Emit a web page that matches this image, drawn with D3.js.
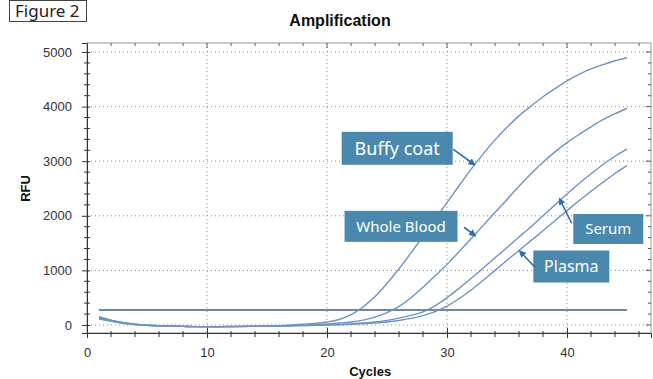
<!DOCTYPE html>
<html>
<head>
<meta charset="utf-8">
<script src="https://cdn.jsdelivr.net/npm/d3@7"></script>
<style>
  body { margin: 0; background: #fff; }
  svg { display: block; }
</style>
</head>
<body>
<div id="chart"></div>
<script>
var width = 653;
var height = 379;
var margin = {top: 43, right: 2, bottom: 46, left: 87};

// cycles 1..45
var cycles = d3.range(1, 46);
var buffyCoat = [150, 90, 45, 15, -5, -15, -20, -25, -30, -30, -30, -28, -25, -22, -18, -12, 0, 15, 30, 55,
                 100, 190, 330, 520, 760, 1030, 1320, 1620, 1930, 2240, 2550, 2850, 3130, 3390, 3620, 3830, 4010, 4180, 4330, 4470,
                 4590, 4690, 4770, 4840, 4895];
var wholeBlood = [140, 85, 40, 12, -5, -15, -20, -25, -30, -30, -30, -28, -25, -22, -20, -15, -10, -5, 5, 20,
                  35, 55, 90, 145, 225, 340, 500, 690, 895, 1110, 1340, 1580, 1820, 2060, 2300, 2540, 2770, 2980, 3170, 3340,
                  3490, 3630, 3760, 3870, 3970];
var serum = [120, 75, 35, 10, -5, -15, -20, -25, -30, -32, -32, -30, -28, -25, -22, -18, -14, -10, -5, 5,
             10, 20, 35, 55, 85, 125, 175, 240, 350, 500, 670, 850, 1040, 1230, 1420, 1610, 1800, 2000, 2200, 2400,
             2590, 2770, 2940, 3090, 3220];
var plasma = [110, 70, 32, 8, -5, -15, -20, -25, -30, -32, -32, -30, -28, -25, -22, -18, -14, -10, -5, 0,
              5, 12, 22, 35, 55, 82, 120, 170, 245, 345, 480, 640, 815, 1000, 1185, 1365, 1545, 1725, 1910, 2095,
              2275, 2450, 2615, 2775, 2920];
var seriesNames = ["Buffy coat", "Whole Blood", "Serum", "Plasma"];
var seriesValues = [buffyCoat, wholeBlood, serum, plasma];
var threshold = 275;

var xTicks = [0, 10, 20, 30, 40];
var yTicks = [0, 1000, 2000, 3000, 4000, 5000];

// label boxes + arrows, in data units (cycle, RFU)
var notes = [
  {text: "Buffy coat",  cx: 25.85, cy: 3236, w: 111, h: 33, size: 18, from: [30.53, 3218], to: [32.33, 2930]},
  {text: "Whole Blood", cx: 26.17, cy: 1807, w: 113, h: 31, size: 15, from: [31.42, 1790], to: [32.39, 1630]},
  {text: "Serum",       cx: 43.44, cy: 1758, w: 70,  h: 30, size: 15, from: [40.39, 1863], to: [39.36, 2320]},
  {text: "Plasma",      cx: 40.36, cy: 1071, w: 76,  h: 32, size: 16, from: [37.33, 1057], to: [36.03, 1361]}
];

var svg = d3.select("#chart")
    .append("svg")
    .attr("width", width)
    .attr("height", height);

var defs = svg.append("defs");
defs.append("marker")
    .attr("id", "arrow")
    .attr("viewBox", "0 0 10 10")
    .attr("refX", 9)
    .attr("refY", 5)
    .attr("markerWidth", 4.5)
    .attr("markerHeight", 4.5)
    .attr("orient", "auto")
  .append("path")
    .attr("d", "M0,0L10,5L0,10z")
    .attr("fill", "#2d6db3");

var w = width - margin.left - margin.right;
var h = height - margin.top - margin.bottom;

var g = svg.append("g").attr("transform", "translate(" + margin.left + "," + margin.top + ")");

var x = d3.scaleLinear().domain([0, 47]).range([0, w]);
var y = d3.scaleLinear().domain([-147, 5165]).range([h, 0]);

// dotted grid
g.append("g").selectAll("line")
    .data(xTicks.slice(1))
    .enter().append("line")
      .attr("x1", function(d) { return x(d); })
      .attr("x2", function(d) { return x(d); })
      .attr("y1", 0).attr("y2", h)
      .attr("stroke", "#8a8a8a")
      .attr("stroke-dasharray", "1,3");

g.append("g").selectAll("line")
    .data(yTicks)
    .enter().append("line")
      .attr("x1", 0).attr("x2", w)
      .attr("y1", function(d) { return y(d); })
      .attr("y2", function(d) { return y(d); })
      .attr("stroke", "#8a8a8a")
      .attr("stroke-dasharray", "1,3");

// frame
g.append("rect")
    .attr("width", w).attr("height", h)
    .attr("fill", "none")
    .attr("stroke", "#9a9a9a");

// minor ticks top/right
var minorX = d3.range(2, 47, 2);
var minorY = d3.range(0, 5001, 200);
g.append("g").selectAll("line")
    .data(minorX)
    .enter().append("line")
      .attr("x1", function(d) { return x(d); })
      .attr("x2", function(d) { return x(d); })
      .attr("y1", 0).attr("y2", function(d) { return d % 10 == 0 ? 5 : 3; })
      .attr("stroke", "#555");
g.append("g").selectAll("line")
    .data(minorY)
    .enter().append("line")
      .attr("x1", w).attr("x2", function(d) { return d % 1000 == 0 ? w - 5 : w - 3; })
      .attr("y1", function(d) { return y(d); })
      .attr("y2", function(d) { return y(d); })
      .attr("stroke", "#555");

// axes
var xAxis = g.append("g")
    .attr("transform", "translate(0," + h + ")")
    .call(d3.axisBottom(x).tickValues(xTicks).tickSize(5).tickPadding(10).tickFormat(d3.format("d")));
xAxis.selectAll(".tick line").attr("y1", -5);
xAxis.append("g").selectAll("line")
    .data(minorX.filter(function(d) { return d % 10 != 0; }))
    .enter().append("line")
      .attr("x1", function(d) { return x(d); })
      .attr("x2", function(d) { return x(d); })
      .attr("y1", -2).attr("y2", 4)
      .attr("stroke", "#333");

var yAxis = g.append("g")
    .call(d3.axisLeft(y).tickValues(yTicks).tickSize(5).tickPadding(10).tickFormat(d3.format("d")));
yAxis.selectAll(".tick line").attr("x1", 3);
yAxis.append("g").selectAll("line")
    .data(minorY.filter(function(d) { return d % 1000 != 0; }))
    .enter().append("line")
      .attr("x1", -3).attr("x2", 3)
      .attr("y1", function(d) { return y(d); })
      .attr("y2", function(d) { return y(d); })
      .attr("stroke", "#333");

svg.selectAll(".domain").attr("stroke", "#333");
svg.selectAll(".tick line").attr("stroke", "#333");
svg.selectAll(".tick text")
    .attr("fill", "#333")
    .style("font", "13px 'Liberation Sans', Arial, sans-serif");

// threshold
g.append("line")
    .attr("x1", x(1)).attr("x2", x(45))
    .attr("y1", y(threshold)).attr("y2", y(threshold))
    .attr("stroke", "#3d5c93")
    .attr("stroke-width", 1.6);

// curves
var line = d3.line()
    .x(function(d, i) { return x(cycles[i]); })
    .y(function(d) { return y(d); })
    .curve(d3.curveMonotoneX);

g.append("g").selectAll("path")
    .data(seriesValues)
    .enter().append("path")
      .attr("d", line)
      .attr("fill", "none")
      .attr("stroke", "#6f93c0")
      .attr("stroke-width", 1.4);

// labels
var note = g.append("g").selectAll("g")
    .data(notes)
    .enter().append("g");

note.append("rect")
    .attr("x", function(d) { return x(d.cx) - d.w / 2; })
    .attr("y", function(d) { return y(d.cy) - d.h / 2; })
    .attr("width", function(d) { return d.w; })
    .attr("height", function(d) { return d.h; })
    .attr("fill", "#4a89ad");

note.append("text")
    .attr("x", function(d) { return x(d.cx); })
    .attr("y", function(d) { return y(d.cy); })
    .attr("dy", "0.35em")
    .attr("text-anchor", "middle")
    .attr("fill", "#fff")
    .style("font-family", "'Noto Sans', 'Open Sans', sans-serif")
    .style("font-size", function(d) { return d.size + "px"; })
    .text(function(d) { return d.text; });

note.append("line")
    .attr("x1", function(d) { return x(d.from[0]); })
    .attr("y1", function(d) { return y(d.from[1]); })
    .attr("x2", function(d) { return x(d.to[0]); })
    .attr("y2", function(d) { return y(d.to[1]); })
    .attr("stroke", "#2d6db3")
    .attr("stroke-width", 1.6)
    .attr("marker-end", "url(#arrow)");

// titles
svg.append("text")
    .attr("x", 340).attr("y", 26)
    .attr("text-anchor", "middle")
    .style("font", "bold 16px 'Liberation Sans', Arial, sans-serif")
    .attr("fill", "#111")
    .text("Amplification");

svg.append("text")
    .attr("x", margin.left + x(23.6)).attr("y", 376)
    .attr("text-anchor", "middle")
    .style("font", "bold 13px 'Liberation Sans', Arial, sans-serif")
    .attr("fill", "#111")
    .text("Cycles");

svg.append("text")
    .attr("transform", "translate(30," + (margin.top + y(2500)) + ") rotate(-90)")
    .attr("text-anchor", "middle")
    .style("font", "bold 13px 'Liberation Sans', Arial, sans-serif")
    .attr("fill", "#111")
    .text("RFU");

svg.append("rect")
    .attr("x", 9.5).attr("y", 0.5)
    .attr("width", 77).attr("height", 21)
    .attr("fill", "#fff")
    .attr("stroke", "#444");

svg.append("text")
    .attr("x", 15).attr("y", 17)
    .style("font", "17px 'Noto Sans', 'Open Sans', sans-serif")
    .attr("fill", "#222")
    .text("Figure 2");
</script>
</body>
</html>
